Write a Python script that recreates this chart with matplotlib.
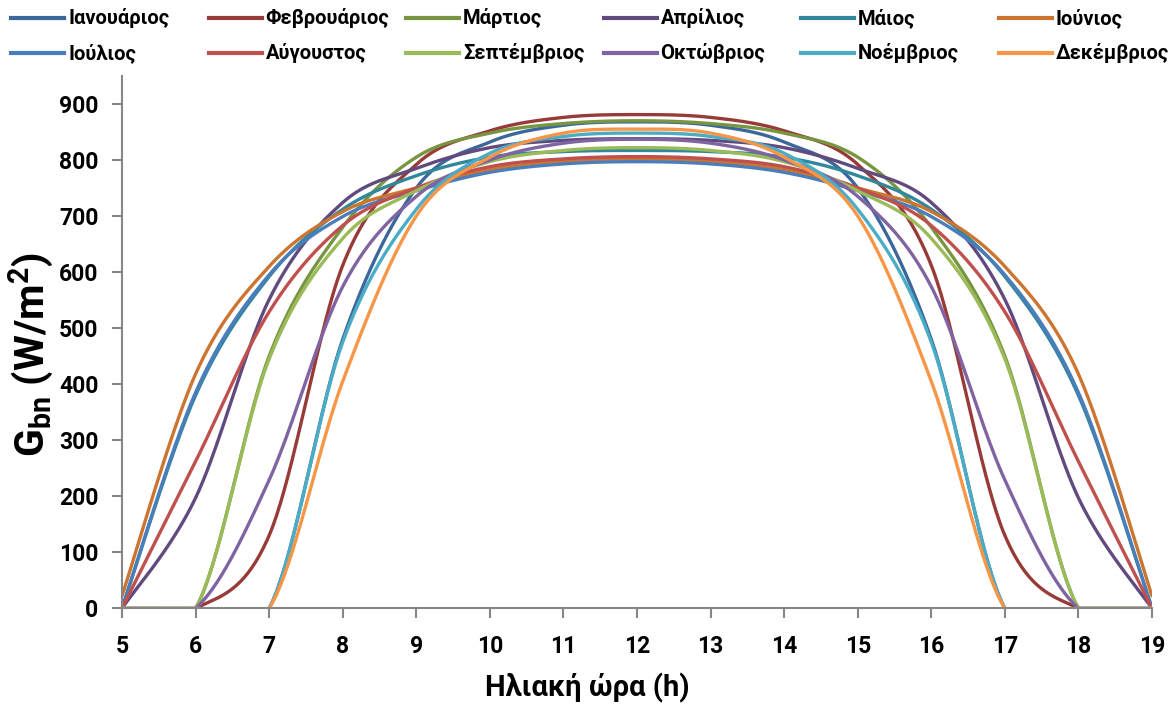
import numpy as np
import matplotlib
matplotlib.use("Agg")
import matplotlib.pyplot as plt
from matplotlib.lines import Line2D

plt.rcParams['font.family'] = ['Roboto', 'DejaVu Sans']
plt.rcParams['font.weight'] = 'bold'
plt.rcParams['mathtext.fontset'] = 'custom'
plt.rcParams['mathtext.rm'] = 'Roboto:bold'
plt.rcParams['mathtext.bf'] = 'Roboto:bold'
plt.rcParams['mathtext.it'] = 'Roboto:bold'

# solar hours
hours = [5, 6, 7, 8, 9, 10, 11, 12, 13, 14, 15, 16, 17, 18, 19]

months = ["Ιανουάριος", "Φεβρουάριος", "Μάρτιος", "Απρίλιος", "Μάιος", "Ιούνιος",
          "Ιούλιος", "Αύγουστος", "Σεπτέμβριος", "Οκτώβριος", "Νοέμβριος", "Δεκέμβριος"]

# G_bn values (W/m2), hours 5..19
jan = [0, 0, 0, 480, 750, 832, 862, 868, 862, 832, 750, 480, 0, 0, 0]
feb = [0, 0, 130, 612, 792, 852, 876, 881, 876, 852, 792, 612, 130, 0, 0]
mar = [0, 0, 450, 680, 805, 848, 865, 870, 865, 848, 805, 680, 450, 0, 0]
apr = [0, 197, 551, 724, 785, 822, 835, 838, 835, 822, 785, 724, 551, 197, 0]
may = [0, 380, 592, 712, 772, 805, 815, 817, 815, 805, 772, 712, 592, 380, 0]
jun = [22, 418, 610, 708, 750, 783, 798, 802, 798, 783, 750, 708, 610, 418, 22]
jul = [0, 385, 595, 699, 745, 778, 793, 797, 793, 778, 745, 699, 595, 385, 0]
aug = [0, 262, 529, 683, 750, 788, 802, 806, 802, 788, 750, 683, 529, 262, 0]
sep = [0, 0, 445, 660, 745, 797, 817, 822, 817, 797, 745, 660, 445, 0, 0]
octo = [0, 0, 229, 574, 735, 800, 830, 837, 830, 800, 735, 574, 229, 0, 0]
nov = [0, 0, 0, 475, 712, 812, 842, 848, 842, 812, 712, 475, 0, 0, 0]
dec = [0, 0, 0, 405, 700, 805, 848, 855, 848, 805, 700, 405, 0, 0, 0]

series = [jan, feb, mar, apr, may, jun, jul, aug, sep, octo, nov, dec]

colors = ["#3B679B", "#983A37", "#789542", "#614A7E", "#31879C", "#CC7531",
          "#4A7EBB", "#C0504D", "#9BBB59", "#8064A2", "#4BACC6", "#F79646"]


def smooth(x, y, n=40):
    # Excel-style smoothed line (cubic bezier with catmull-rom tangents)
    x = np.asarray(x, float)
    y = np.asarray(y, float)
    px, py = [], []
    for i in range(len(x) - 1):
        i0 = max(i - 1, 0)
        i3 = min(i + 2, len(x) - 1)
        c1x = x[i] + (x[i + 1] - x[i0]) / 6
        c1y = y[i] + (y[i + 1] - y[i0]) / 6
        c2x = x[i + 1] - (x[i3] - x[i]) / 6
        c2y = y[i + 1] - (y[i3] - y[i]) / 6
        t = np.linspace(0, 1, n)
        bx = (1-t)**3*x[i] + 3*(1-t)**2*t*c1x + 3*(1-t)*t**2*c2x + t**3*x[i+1]
        by = (1-t)**3*y[i] + 3*(1-t)**2*t*c1y + 3*(1-t)*t**2*c2y + t**3*y[i+1]
        px.extend(bx)
        py.extend(by)
    return np.array(px), np.array(py)


fig = plt.figure(figsize=(11.75, 7.05), dpi=100)
ax = fig.add_axes([122/1175, 1 - 608.3/705, 1030/1175, 950*0.5604/705])

for vals, c in zip(series, colors):
    sx, sy = smooth(hours, vals)
    ax.plot(sx, sy, color=c, lw=2.4, solid_capstyle='round')

ax.set_xlim(5, 19)
ax.set_ylim(0, 950)
ax.set_xticks(range(5, 20))
ax.set_yticks(range(0, 901, 100))
for s in ['top', 'right']:
    ax.spines[s].set_visible(False)
for s in ['left', 'bottom']:
    ax.spines[s].set_color('#868686')
    ax.spines[s].set_linewidth(1.5)
ax.tick_params(axis='both', direction='out', length=7, width=1.5, color='#868686',
               labelsize=16.5, labelcolor='black')
ax.tick_params(axis='y', pad=10)
ax.tick_params(axis='x', pad=12)

# axis titles, centred on the chart area
fig.text(0.5, 1 - 688/705, "Ηλιακή ώρα (h)", fontsize=21, fontweight='bold',
         ha='center', va='center')
fig.text(31/1175, 1 - 354/705, r"$\mathbf{G_{bn}}$ (W/m$^{\mathbf{2}}$)", fontsize=29.5,
         fontweight='bold', rotation=90, ha='center', va='center')

# legend: 2 rows x 6 columns
for i, (name, c) in enumerate(zip(months, colors)):
    row, col = divmod(i, 6)
    x0 = 11 + col * 197.5
    y0 = 18 + row * 35
    fig.add_artist(Line2D([x0/1175, (x0 + 53)/1175], [1 - y0/705, 1 - y0/705],
                          transform=fig.transFigure, color=c, lw=3))
    fig.text((x0 + 57)/1175, 1 - y0/705, name, fontsize=14.5, fontweight='bold',
             va='center', ha='left')

fig.savefig("out.png", dpi=100)
